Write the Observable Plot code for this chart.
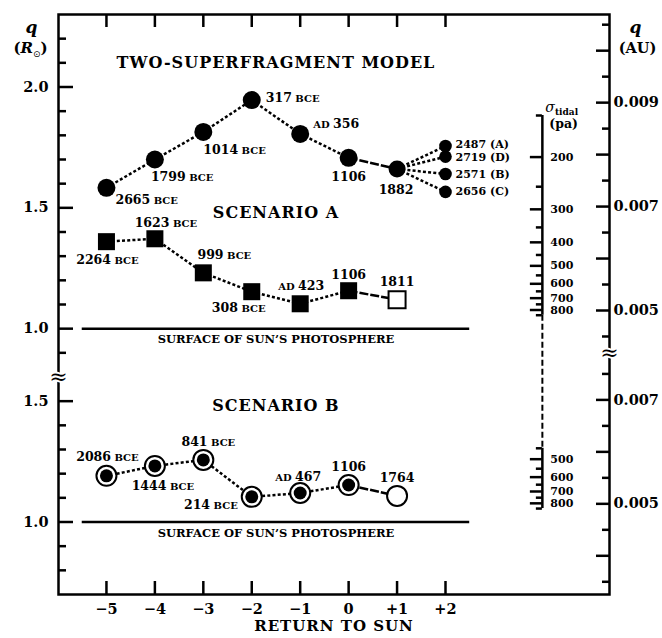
<!DOCTYPE html>
<html><head><meta charset="utf-8">
<script src="https://cdn.jsdelivr.net/npm/d3@7"></script>
<script src="https://cdn.jsdelivr.net/npm/@observablehq/plot@0.6"></script>
<style>body{margin:0;background:#fff} svg{display:block}</style>
</head><body><div id="chart"></div>
<script>
// ---------- data ----------
const returns = [-5, -4, -3, -2, -1, 0, 1];
const returnTicks = [-5, -4, -3, -2, -1, 0, 1, 2];
const returnTickLabels = ["\u22125", "\u22124", "\u22123", "\u22122", "\u22121", "0", "+1", "+2"];

const twoQ = [1.583, 1.700, 1.814, 1.946, 1.806, 1.707, 1.661];
const twoLabels = ["2665 BCE", "1799 BCE", "1014 BCE", "317 BCE", "AD 356", "1106", "1882"];
const branchReturn = 2;
const branchQ = [1.756, 1.712, 1.640, 1.566];
const branchLabels = ["2487 (A)", "2719 (D)", "2571 (B)", "2656 (C)"];

const aQ = [1.360, 1.372, 1.231, 1.153, 1.103, 1.157, 1.120];
const aLabels = ["2264 BCE", "1623 BCE", "999 BCE", "308 BCE", "AD 423", "1106", "1811"];

const bQ = [1.191, 1.232, 1.257, 1.104, 1.120, 1.153, 1.108];
const bLabels = ["2086 BCE", "1444 BCE", "841 BCE", "214 BCE", "AD 467", "1106", "1764"];

const leftTicksUpper = [0.9, 1.0, 1.1, 1.2, 1.3, 1.4, 1.5, 1.6, 1.7, 1.8, 1.9, 2.0, 2.1, 2.2];
const leftTicksLower = [0.8, 0.9, 1.0, 1.1, 1.2, 1.3, 1.4, 1.5];
const leftMajor = [1.0, 1.5, 2.0];
const leftLabelsUpper = [2.0, 1.5, 1.0];
const leftLabelsLower = [1.5, 1.0];

const auTicksUpper = [0.0045, 0.005, 0.0055, 0.006, 0.0065, 0.007, 0.0075, 0.008, 0.0085, 0.009, 0.0095, 0.010, 0.0105];
const auTicksLower = [0.0035, 0.004, 0.0045, 0.005, 0.0055, 0.006, 0.0065, 0.007, 0.0075];
const auMajor = [0.004, 0.005, 0.006, 0.007, 0.008, 0.009, 0.010];
const auLabelsUpper = [0.009, 0.007, 0.005];
const auLabelsLower = [0.007, 0.005];

const sigmaAxisReturn = 4;
const sigmaTicksUpper = [150, 200, 250, 300, 350, 400, 450, 500, 550, 600, 650, 700, 750, 800, 850];
const sigmaTicksLower = [450, 500, 550, 600, 650, 700, 750, 800, 850];
const sigmaLabelsUpper = [200, 300, 400, 500, 600, 700, 800];
const sigmaLabelsLower = [500, 600, 700, 800];

const photosphereQ = 1.0;
const photosphereSpan = [-5.5, 2.5];

// ---------- layout / style ----------
const W = 662, H = 638, ML = 58, MR = 53, MT = 14, MB = 44;
const xDomain = [-5.99, 5.386];
const vDomain = [-0.1, 2.3];           // virtual (broken-axis) coordinate
const LOWER_SHIFT = 0.8;               // lower panel is drawn 0.8 R below
const up = q => q, lo = q => q - LOWER_SHIFT;
const pxX = (xDomain[1] - xDomain[0]) / (W - ML - MR);
const pxY = (vDomain[1] - vDomain[0]) / (H - MT - MB);
const RSUN_AU = 0.00465047;
const SIGMA_C = 1000;                  // sigma ~ q^-3
const qOfSigma = s => Math.cbrt(SIGMA_C / s);
const FONT = "DejaVu Serif";
const SW = 2.5;
const DOT = "3,2.2";
const eq = (a, b) => Math.abs(a - b) < 1e-9;

const twoLabelPos = [
  {dx: 9, dy: 12, a: "start"}, {dx: -4, dy: 17, a: "start"}, {dx: 0, dy: 18, a: "start"},
  {dx: 14, dy: -2, a: "start"}, {dx: 13, dy: -10, a: "start"}, {dx: 0, dy: 19, a: "middle"},
  {dx: -1, dy: 21, a: "middle"}];
const branchLabelPos = [{dx: 10, dy: -1.5, a: "start"}, {dx: 10, dy: 1, a: "start"},
  {dx: 10, dy: 0, a: "start"}, {dx: 10, dy: 0, a: "start"}];
const aLabelPos = [
  {dx: 1, dy: 18, a: "middle"}, {dx: 11, dy: -16, a: "middle"}, {dx: 21, dy: -18, a: "middle"},
  {dx: -13, dy: 16, a: "middle"}, {dx: 1, dy: -18, a: "middle"}, {dx: 0, dy: -16, a: "middle"},
  {dx: 0, dy: -18, a: "middle"}];
const bLabelPos = [
  {dx: 1, dy: -19, a: "middle"}, {dx: 8, dy: 20, a: "middle"}, {dx: 5, dy: -18, a: "middle"},
  {dx: -14, dy: 8, a: "end"}, {dx: -2, dy: -16, a: "middle"}, {dx: 0, dy: -18, a: "middle"},
  {dx: 0, dy: -18, a: "middle"}];

// ---------- tables ----------
const mk = (qs, labels, pos, f) => qs.map((q, i) => ({x: returns[i], v: f(q), label: labels[i], ...pos[i]}));
const two = mk(twoQ, twoLabels, twoLabelPos, up);
const A = mk(aQ, aLabels, aLabelPos, up);
const B = mk(bQ, bLabels, bLabelPos, lo);
const branches = branchQ.map((q, i) => ({x: branchReturn, v: up(q), label: branchLabels[i], ...branchLabelPos[i]}));
const last = two[two.length - 1];
const segs = (pts) => pts.slice(1).map((p, i) => ({x1: pts[i].x, v1: pts[i].v, x2: p.x, v2: p.v}));

const leftTicks = [...leftTicksUpper.map(q => ({v: up(q), major: leftMajor.some(m => eq(m, q))})),
                   ...leftTicksLower.map(q => ({v: lo(q), major: leftMajor.some(m => eq(m, q))}))];
const leftLabels = [...leftLabelsUpper.map(q => ({v: up(q), t: q.toFixed(1)})),
                    ...leftLabelsLower.map(q => ({v: lo(q), t: q.toFixed(1)}))];
const auTicks = [...auTicksUpper.map(a => ({v: up(a / RSUN_AU), major: auMajor.some(m => eq(m, a))})),
                 ...auTicksLower.map(a => ({v: lo(a / RSUN_AU), major: auMajor.some(m => eq(m, a))}))];
const auLabels = [...auLabelsUpper.map(a => ({v: up(a / RSUN_AU), t: a.toFixed(3)})),
                  ...auLabelsLower.map(a => ({v: lo(a / RSUN_AU), t: a.toFixed(3)}))];
const sigTicks = [...sigmaTicksUpper.map(s => ({v: up(qOfSigma(s)), major: s % 100 === 0})),
                  ...sigmaTicksLower.map(s => ({v: lo(qOfSigma(s)), major: s % 100 === 0}))];
const sigLabels = [...sigmaLabelsUpper.map(s => ({v: up(qOfSigma(s)), t: String(s)})),
                   ...sigmaLabelsLower.map(s => ({v: lo(qOfSigma(s)), t: String(s)}))];
const sUp = [qOfSigma(sigmaTicksUpper[0]), qOfSigma(sigmaTicksUpper[sigmaTicksUpper.length - 1])].map(up);
const sLo = [qOfSigma(sigmaTicksLower[0]), qOfSigma(sigmaTicksLower[sigmaTicksLower.length - 1])].map(lo);

const txt = (data, o) => Plot.text(data, {fontFamily: FONT, fontWeight: "bold", ...o});
const perItemLabels = (data, size = 12.5) => data.map(d =>
  txt([d], {x: "x", y: "v", text: "label", dx: d.dx, dy: d.dy, textAnchor: d.a, fontSize: size}));
const dotted = (pts, dash) => Plot.link(segs(pts), {x1: "x1", y1: "v1", x2: "x2", y2: "v2",
  strokeWidth: SW, strokeDasharray: dash, strokeLinecap: "butt"});
const midX = (photosphereSpan[0] + photosphereSpan[1]) / 2;

const chart = Plot.plot({
  width: W, height: H,
  marginLeft: ML, marginRight: MR, marginTop: MT, marginBottom: MB,
  x: {domain: xDomain, axis: null},
  y: {domain: vDomain, axis: null},
  style: {fontFamily: FONT, background: "white"},
  marks: [
    // photosphere lines
    Plot.ruleY([up(photosphereQ), lo(photosphereQ)], {x1: photosphereSpan[0], x2: photosphereSpan[1], strokeWidth: SW}),
    txt([up(photosphereQ), lo(photosphereQ)], {x: midX, y: d => d, dy: 11, text: () => "SURFACE OF SUN\u2019S PHOTOSPHERE", fontSize: 11.5}),
    // titles
    txt([up(2.1)], {x: midX, y: d => d, text: () => "TWO-SUPERFRAGMENT MODEL", fontSize: 16}),
    txt([up(1.48)], {x: midX, y: d => d, text: () => "SCENARIO A", fontSize: 16}),
    txt([lo(1.48)], {x: midX, y: d => d, text: () => "SCENARIO B", fontSize: 16}),

    // frame and axes
    Plot.frame({strokeWidth: SW}),
    Plot.ruleY(leftTicks, {y: "v", x1: xDomain[0], x2: d => xDomain[0] + (d.major ? 15 : 8) * pxX, strokeWidth: SW}),
    txt(leftLabels, {x: xDomain[0], y: "v", text: "t", dx: -10, textAnchor: "end", fontSize: 14.5}),
    Plot.ruleY(auTicks, {y: "v", x1: d => xDomain[1] - (d.major ? 13 : 7) * pxX, x2: xDomain[1], strokeWidth: SW}),
    txt(auLabels, {x: xDomain[1], y: "v", text: "t", dx: 4, textAnchor: "start", fontSize: 14.5}),
    Plot.ruleX(returnTicks, {x: d => d, y1: vDomain[1], y2: vDomain[1] - 13 * pxY, strokeWidth: SW}),
    Plot.ruleX(returnTicks, {x: d => d, y1: vDomain[0], y2: vDomain[0] + 13 * pxY, strokeWidth: SW}),
    txt(returnTicks, {x: d => d, y: vDomain[0], text: (d, i) => returnTickLabels[i], dy: 15, fontSize: 14.5}),
    txt(["RETURN TO SUN"], {frameAnchor: "bottom", dy: 36, text: d => d, fontSize: 15, textAnchor: "middle"}),
    // break marks
    txt(["\u2248"], {x: xDomain[0], y: up(0.8), text: d => d, fontSize: 22, fontWeight: "normal", stroke: "white", strokeWidth: 4, fill: "black"}),
    txt(["\u2248"], {x: xDomain[1], y: up(0.9), text: d => d, fontSize: 22, fontWeight: "normal", stroke: "white", strokeWidth: 4, fill: "black"}),
    // axis headers
    txt(["q"], {frameAnchor: "top-left", dx: -27, dy: 6, text: d => d, fontSize: 17, fontStyle: "italic", textAnchor: "middle"}),
    txt(["(R\u2299)"], {frameAnchor: "top-left", dx: -28, dy: 28, text: d => d, fontSize: 15, textAnchor: "middle"}),
    txt(["q"], {frameAnchor: "top-right", dx: 26, dy: 6, text: d => d, fontSize: 17, fontStyle: "italic", textAnchor: "middle"}),
    txt(["(AU)"], {frameAnchor: "top-right", dx: 28, dy: 28, text: d => d, fontSize: 14.5, textAnchor: "middle"}),

    // sigma axis
    Plot.ruleX([sigmaAxisReturn], {y1: sUp[0], y2: sUp[1], strokeWidth: SW}),
    Plot.ruleX([sigmaAxisReturn], {y1: sLo[0], y2: sLo[1], strokeWidth: SW}),
    Plot.ruleX([sigmaAxisReturn], {y1: sUp[1], y2: sLo[0], strokeWidth: 2, strokeDasharray: "6,3"}),
    Plot.ruleY(sigTicks, {y: "v", x1: d => sigmaAxisReturn - (d.major ? 12 : 6) * pxX, x2: sigmaAxisReturn, strokeWidth: SW}),
    txt(sigLabels, {x: sigmaAxisReturn, y: "v", text: "t", dx: 8, textAnchor: "start", fontSize: 11}),
    txt(["\u03c3tidal"], {x: sigmaAxisReturn, y: up(1.915), text: d => d, dx: 3, textAnchor: "start", fontSize: 14}),
    txt(["(pa)"], {x: sigmaAxisReturn, y: up(1.845), text: d => d, dx: 7, textAnchor: "start", fontSize: 12.5}),

    // two-superfragment model
    dotted(two.slice(0, 6), DOT),
    dotted(two.slice(5, 7), "9,2"),
    Plot.link(branches, {x1: last.x, y1: last.v, x2: "x", y2: "v", strokeWidth: SW, strokeDasharray: DOT, strokeLinecap: "butt"}),
    Plot.dot(two.slice(0, 6), {x: "x", y: "v", r: 9, fill: "black"}),
    Plot.dot([last], {x: "x", y: "v", r: 8.5, fill: "black"}),
    Plot.dot(branches, {x: "x", y: "v", r: 6.3, fill: "black"}),
    ...perItemLabels(two),
    ...perItemLabels(branches, 11),

    // scenario A
    dotted(A.slice(0, 6), DOT),
    dotted(A.slice(5, 7), "9,2"),
    Plot.dot(A.slice(0, 6), {x: "x", y: "v", r: 9.6, symbol: "square", fill: "black"}),
    Plot.dot(A.slice(6), {x: "x", y: "v", r: 9.6, symbol: "square", fill: "white", stroke: "black", strokeWidth: 2}),
    ...perItemLabels(A),

    // scenario B
    dotted(B.slice(0, 6), DOT),
    dotted(B.slice(5, 7), "9,2"),
    Plot.dot(B, {x: "x", y: "v", r: 10, fill: "white", stroke: "black", strokeWidth: 2}),
    Plot.dot(B.slice(0, 6), {x: "x", y: "v", r: 6.5, fill: "black"}),
    ...perItemLabels(B)
  ]
});

// rich text: small caps, italics, subscripts
const SMALL = 10;
d3.select(chart).selectAll("text").each(function () {
  const t = d3.select(this);
  const s = this.textContent;
  let m;
  if ((m = s.match(/^(\d+) BCE$/))) {
    t.text(null);
    t.append("tspan").text(m[1]);
    t.append("tspan").attr("font-size", SMALL).text(" BCE");
  } else if ((m = s.match(/^AD (\d+)$/))) {
    t.text(null);
    t.append("tspan").attr("font-size", SMALL).text("AD ");
    t.append("tspan").text(m[1]);
  } else if (s === "(R\u2299)") {
    t.text(null);
    t.append("tspan").text("(");
    t.append("tspan").attr("font-style", "italic").text("R");
    t.append("tspan").attr("font-size", 9).attr("font-family", "DejaVu Sans").attr("font-weight", "normal").attr("dy", 4).text("\u2299");
    t.append("tspan").attr("dy", -4).text(")");
  } else if (s === "\u03c3tidal") {
    t.text(null);
    t.append("tspan").attr("font-style", "italic").attr("font-weight", "normal").text("\u03c3");
    t.append("tspan").attr("font-size", 9).attr("dy", 3).text("tidal");
  } else if (/^(TWO|SCENARIO|RETURN)/.test(s)) {
    t.attr("letter-spacing", 1);
  }
});
document.getElementById("chart").appendChild(chart);
</script>
</body></html>
